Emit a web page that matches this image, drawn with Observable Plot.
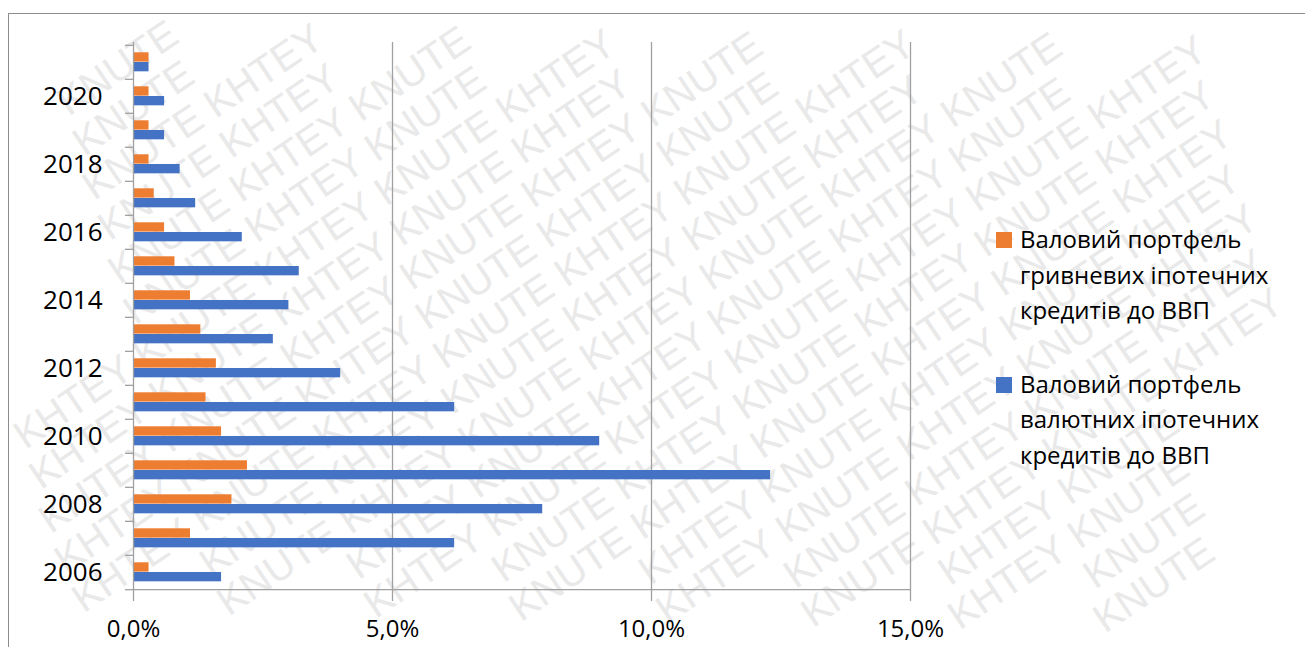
<!DOCTYPE html>
<html><head><meta charset="utf-8">
<script src="https://cdn.jsdelivr.net/npm/d3@7"></script>
<script src="https://cdn.jsdelivr.net/npm/@observablehq/plot@0.6"></script>
<style>
body{margin:0;background:#fff;}
#wrap{position:relative;width:1305px;height:647px;overflow:hidden;font-family:"Open Sans",sans-serif;background:#fff;}
#wm{position:absolute;left:0;top:0;}
#border{position:absolute;left:8px;top:13px;width:1400px;height:800px;border:1.5px solid #8c8c8c;box-sizing:border-box;}
#chart{position:absolute;left:0;top:0;}
#legend{position:absolute;left:996px;top:221px;font-size:24px;line-height:35.5px;color:#000;}
.item{display:flex;align-items:flex-start;margin-bottom:38px;}
.sw{width:16px;height:16px;margin-top:11px;margin-right:8px;flex:none;}
.lbl{width:270px;}
</style></head>
<body><div id="wrap"><svg id="wm" width="1305" height="647"></svg><div id="border"></div><div id="chart"></div><div id="legend"></div></div>
<script>
const years = [2006,2007,2008,2009,2010,2011,2012,2013,2014,2015,2016,2017,2018,2019,2020,2021];
const hryvnia = [0.3,1.1,1.9,2.2,1.7,1.4,1.6,1.3,1.1,0.8,0.6,0.4,0.3,0.3,0.3,0.3];
const currency = [1.7,6.2,7.9,12.3,9.0,6.2,4.0,2.7,3.0,3.2,2.1,1.2,0.9,0.6,0.6,0.3];
const seriesNames = ["Валовий портфель гривневих іпотечних кредитів до ВВП","Валовий портфель валютних іпотечних кредитів до ВВП"];
const colors = ["#ED7D31","#4472C4"];
const xTicks = [0,5,10,15];
const watermarkWords = ["KHTEY","KNUTE"];

// watermark: individual words, keep only those fully inside the picture
const ns = "http://www.w3.org/2000/svg";
const wm = document.getElementById("wm");
const g = document.createElementNS(ns,"g");
g.setAttribute("transform","rotate(-34 652 323)");
wm.appendChild(g);
for (let i = -16; i < 30; i++) {
  let x = -700 + ((i*137)%300 + 300)%300;
  let k = i;
  while (x < 2000) {
    const t = document.createElementNS(ns,"text");
    t.setAttribute("x", x);
    t.setAttribute("y", -300 + i*42);
    t.setAttribute("fill","#e9e9e9");
    t.setAttribute("font-family","Liberation Sans, Arial, sans-serif");
    t.setAttribute("font-size","40");
    t.textContent = watermarkWords[((k%2)+2)%2];
    g.appendChild(t);
    x += t.getComputedTextLength() + 11;
    k++;
  }
}
const wr = wm.getBoundingClientRect();
Array.from(g.childNodes).forEach(t=>{
  const r = t.getBoundingClientRect();
  if (r.left < wr.left+1 || r.top < wr.top+1 || r.right > wr.right-1 || r.bottom > wr.bottom-1) t.remove();
});

const data = years.flatMap((y,i)=>[{year:y,s:0,value:hryvnia[i]},{year:y,s:1,value:currency[i]}]);
const H = 647, mt = 42, mb = 55;
const band = (H-mt-mb)/years.length;
const axisColor = "#a0a0a0";

const chart = Plot.plot({
  width:1305, height:H, marginLeft:133, marginRight:395, marginTop:mt, marginBottom:mb,
  style:{background:"transparent", fontFamily:"'Open Sans', sans-serif", color:"#000", overflow:"visible"},
  x:{domain:[xTicks[0], xTicks[xTicks.length-1]], label:null},
  y:{domain:years.slice().reverse(), padding:0, label:null},
  marks:[
    Plot.gridX(xTicks.slice(1), {stroke:axisColor, strokeOpacity:1, strokeWidth:1.3}),
    Plot.barX(data.filter(d=>d.s===0), {x:"value", y:"year", fill:colors[0], insetTop:7.3, insetBottom:band-17}),
    Plot.barX(data.filter(d=>d.s===1), {x:"value", y:"year", fill:colors[1], insetTop:17, insetBottom:band-26.7}),
    Plot.ruleX([xTicks[0]], {stroke:axisColor, strokeWidth:1.3}),
    Plot.ruleY([years[0]], {x1:xTicks[0], x2:xTicks[xTicks.length-1], dy:band/2, stroke:axisColor, strokeWidth:1.3}),
    Plot.axisY({tickSize:8, tickFormat:()=>"", dy:-band/2, stroke:axisColor, strokeWidth:1.3}),
    Plot.axisY([years[0]], {tickSize:8, tickFormat:()=>"", dy:band/2, stroke:axisColor, strokeWidth:1.3}),
    Plot.axisY({tickSize:0, tickPadding:31, tickFormat:d=> d%2===0 ? String(d) : "", fontSize:26, fill:"#000"}),
    Plot.axisX({ticks:xTicks, tickSize:9, tickPadding:18, tickFormat:d=>d.toFixed(1).replace(".",",")+"%", fontSize:24, stroke:axisColor, strokeWidth:1.3, fill:"#000"})
  ]
});
document.getElementById("chart").appendChild(chart);

const legend = document.getElementById("legend");
seriesNames.forEach((n,i)=>{
  const it = document.createElement("div"); it.className="item";
  const sw = document.createElement("div"); sw.className="sw"; sw.style.background=colors[i];
  const lb = document.createElement("div"); lb.className="lbl"; lb.textContent=n;
  it.appendChild(sw); it.appendChild(lb); legend.appendChild(it);
});
</script></body></html>
